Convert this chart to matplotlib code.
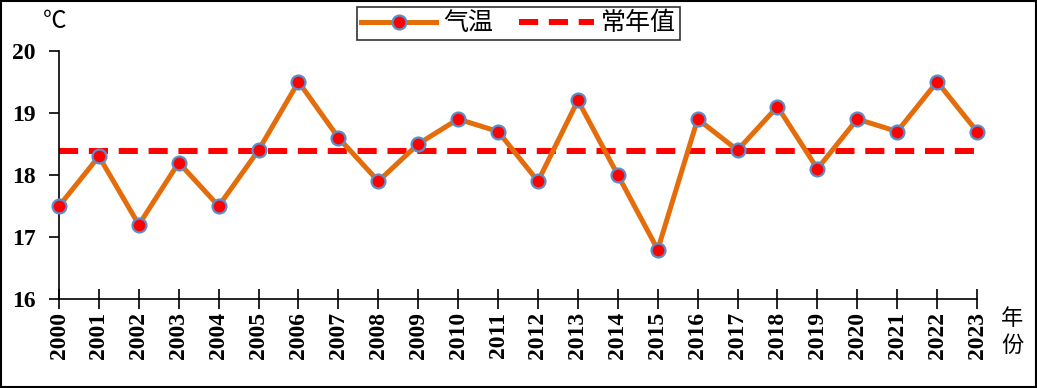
import matplotlib
matplotlib.use("Agg")
import matplotlib.pyplot as plt
from matplotlib.lines import Line2D

# 年份与气温
years = list(range(2000, 2024))
temps = [17.5, 18.3, 17.2, 18.2, 17.5, 18.4, 19.5, 18.6, 17.9, 18.5,
         18.9, 18.7, 17.9, 19.2, 18.0, 16.8, 18.9, 18.4, 19.1, 18.1,
         18.9, 18.7, 19.5, 18.7]
normal = 18.38
yticks = [16, 17, 18, 19, 20]

cjk = ["Noto Sans CJK SC", "DejaVu Sans"]
num_font = dict(family="Liberation Serif", weight="bold", size=17)

fig = plt.figure(figsize=(10.37, 3.88), dpi=100)
ax = fig.add_axes([0.0569, 0.2286, 0.8853, 0.6407])

ax.plot(years, [normal] * len(years), color="#ff0000", linewidth=4.3,
        linestyle=(0, (3.2, 1.8)), zorder=2, label="常年值")
ax.plot(years, temps, color="#e46c0a", linewidth=3.6, marker="o",
        markersize=10, markerfacecolor="#ff0000", markeredgecolor="#5b8ec9",
        markeredgewidth=1.6, zorder=3, clip_on=False, label="气温")

ax.set_xlim(years[0], years[-1])
ax.set_ylim(16, 20)
ax.set_xticks(years)
ax.set_xticklabels([str(y) for y in years], rotation=90, **num_font)
ax.set_yticks(yticks)
ax.set_yticklabels([str(v) for v in yticks], **num_font)
ax.tick_params(axis="x", direction="inout", length=14, width=1.2, pad=2)
ax.tick_params(axis="y", direction="out", length=7, width=1.2, pad=10)
for s in ["top", "right"]:
    ax.spines[s].set_visible(False)
for s in ["left", "bottom"]:
    ax.spines[s].set_linewidth(1.2)

fig.text(0.0415, 0.915, "℃", family=cjk, fontsize=17, ha="left", va="bottom")
fig.text(0.976, 0.145, "年\n份", family=cjk, fontsize=16, ha="center",
         va="center", linespacing=1.2)

handles = [
    Line2D([], [], color="#e46c0a", linewidth=3.6, marker="o", markersize=10,
           markerfacecolor="#ff0000", markeredgecolor="#5b8ec9", markeredgewidth=1.6),
    Line2D([], [], color="#ff0000", linewidth=4.3, linestyle=(0, (3.2, 1.8))),
]
leg = fig.legend(handles, ["气温", "常年值"], loc="center",
                 bbox_to_anchor=(0.5, 0.94), ncol=2, frameon=True,
                 prop=dict(family=cjk, size=18), handlelength=3.0,
                 columnspacing=1.0, handletextpad=0.3, borderpad=0.15,
                 fancybox=False, edgecolor="black")
leg.get_frame().set_linewidth(1.2)

fig.patches.append(plt.Rectangle((0.001, 0.002), 0.998, 0.996, fill=False,
                                 edgecolor="black", linewidth=1.5,
                                 transform=fig.transFigure))

fig.savefig("out.png", dpi=100)
